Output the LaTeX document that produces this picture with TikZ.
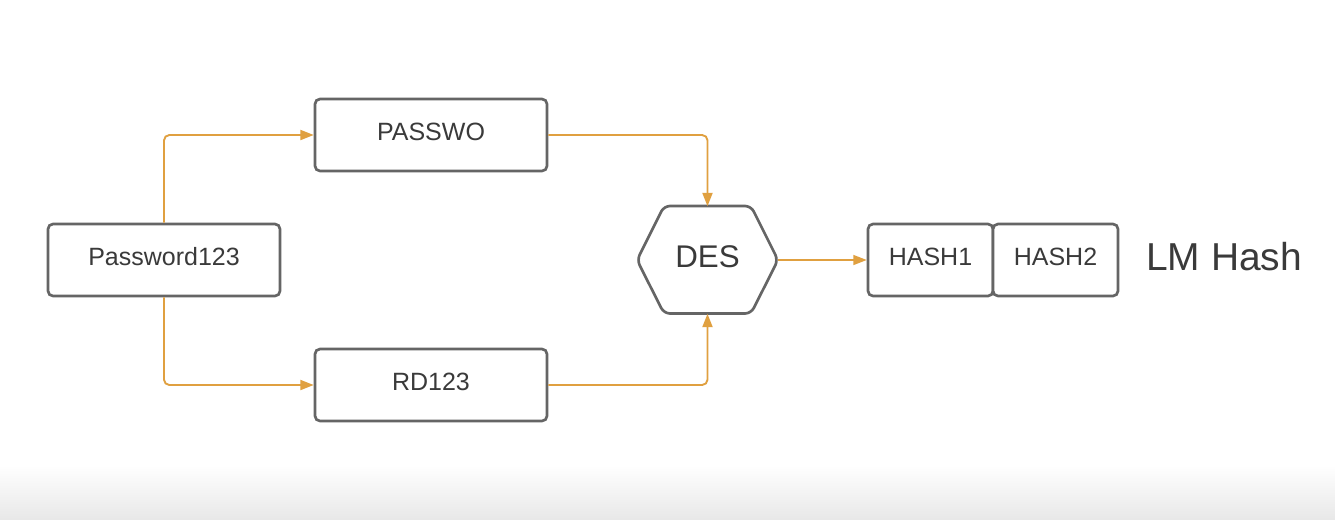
\documentclass[tikz,border=0pt]{standalone}
\usepackage{fontspec}
\setmainfont{Liberation Sans}
\usetikzlibrary{arrows.meta}
\definecolor{boxline}{HTML}{656565}
\definecolor{txt}{HTML}{3A3A3A}
\definecolor{conncol}{HTML}{E0A040}
\tikzset{
  box/.style={draw=boxline, line width=2pt, rounded corners=3.75pt, fill=white,
    inner sep=0pt, text=txt, font=\fontsize{18.75}{22}\selectfont,
    text height=13.4pt, text depth=5.2pt},
  bigbox/.style={box, minimum width=174pt, minimum height=54pt},
  hashbox/.style={box, minimum width=93.75pt, minimum height=54pt},
  conn/.style={draw=conncol, line width=1.4pt, rounded corners=4pt,
    -{Triangle[length=10pt,width=7.5pt]}},
  thinconn/.style={conn, line width=1pt},
}
\begin{document}
\begin{tikzpicture}[x=0.75pt,y=-0.75pt]
\useasboundingbox (0,0) rectangle (1335,519);
\fill[white] (0,0) rectangle (1335,519);
\shade[top color=white, bottom color=black!9, draw=none] (0,465) rectangle (1335,519);

\node[bigbox] (pw) at (164,260) {Password123};
\node[bigbox] (p1) at (431,135) {PASSWO};
\node[bigbox] (p2) at (431,385) {RD123};

\node[inner sep=0pt, minimum width=105.75pt, minimum height=80.25pt] (des) at (707.5,260) {};
\draw[boxline, line width=2pt, rounded corners=4.5pt, fill=white]
  (637,260) -- (664,206) -- (751,206) -- (778,260) -- (751,313.5) -- (664,313.5) -- cycle;
\node[inner sep=0pt, text=txt, font=\fontsize{23.5}{27}\selectfont,
  text height=16.8pt, text depth=5.2pt] (destext) at (des) {DES};

\node[hashbox] (h1) at (930.5,260) {HASH1};
\node[hashbox] (h2) at (1055.5,260) {HASH2};
\node[anchor=west, inner sep=0pt, text=txt, font=\fontsize{29.2}{33}\selectfont] (lm) at (1146,256.5) {LM Hash};

\draw[conn] (pw.north) |- (p1.west);
\draw[conn] (pw.south) |- (p2.west);
\draw[conn] (p1.east) -| (des.north);
\draw[conn] (p2.east) -| (des.south);
\draw[thinconn] (des.east) -- (h1.west);
\end{tikzpicture}
\end{document}
